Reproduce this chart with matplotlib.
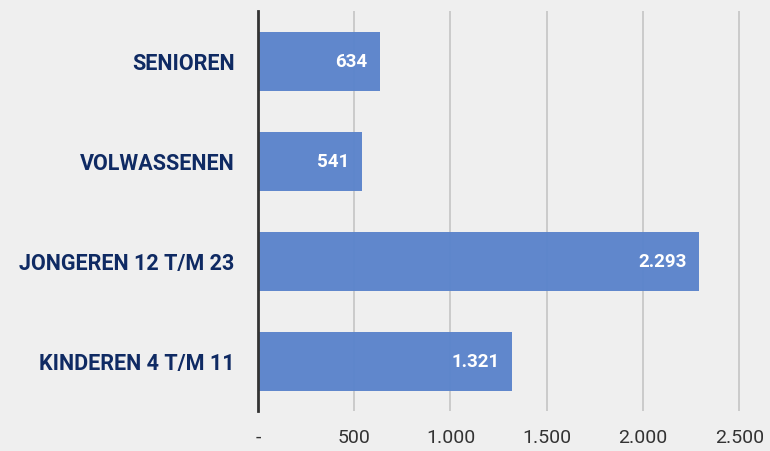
import matplotlib
matplotlib.use("Agg")
import matplotlib.pyplot as plt
from matplotlib.ticker import FuncFormatter

categories = ["SENIOREN", "VOLWASSENEN", "JONGEREN 12 T/M 23", "KINDEREN 4 T/M 11"]
values = [634, 541, 2293, 1321]
xticks = [0, 500, 1000, 1500, 2000, 2500]

def fmt(v):
    if v == 0:
        return "-"
    return f"{int(v):,}".replace(",", ".")

bg = "#efefef"
bar_color = "#5b84cb"
navy = "#0f2a63"

fig = plt.figure(figsize=(7.7, 4.52), dpi=100, facecolor=bg)
ax = fig.add_axes([258/770, 1 - 412/452, 1 - 258/770, 400/452], facecolor=bg)

ypos = list(range(len(categories)))
ax.set_xlim(0, 2660)
ax.set_ylim(len(categories) - 0.5, -0.5)
ax.set_xticks(xticks)
ax.xaxis.set_major_formatter(FuncFormatter(lambda v, p: fmt(v)))
ax.grid(axis="x", color="#c4c4c4", linewidth=1.2, zorder=1)
ax.set_axisbelow(True)

ax.barh(ypos, values, height=0.59, color=bar_color, alpha=0.97, zorder=2)

for y, v in zip(ypos, values):
    ax.text(v - 65, y, fmt(v), ha="right", va="center", color="white",
            fontsize=13.5, fontweight="bold", family="Roboto", zorder=3)

ax.set_yticks(ypos)
ax.set_yticklabels(categories, fontsize=15.5, fontweight="bold", color=navy, family="Roboto")
ax.tick_params(axis="y", length=0, pad=17)
ax.tick_params(axis="x", length=0, pad=12, labelsize=14, labelcolor="#333333")
for lbl in ax.get_xticklabels():
    lbl.set_family("Roboto")

for s in ["top", "right", "bottom"]:
    ax.spines[s].set_visible(False)
ax.spines["left"].set_color("#333333")
ax.spines["left"].set_linewidth(2)

fig.savefig("out.png", dpi=100, facecolor=bg)
